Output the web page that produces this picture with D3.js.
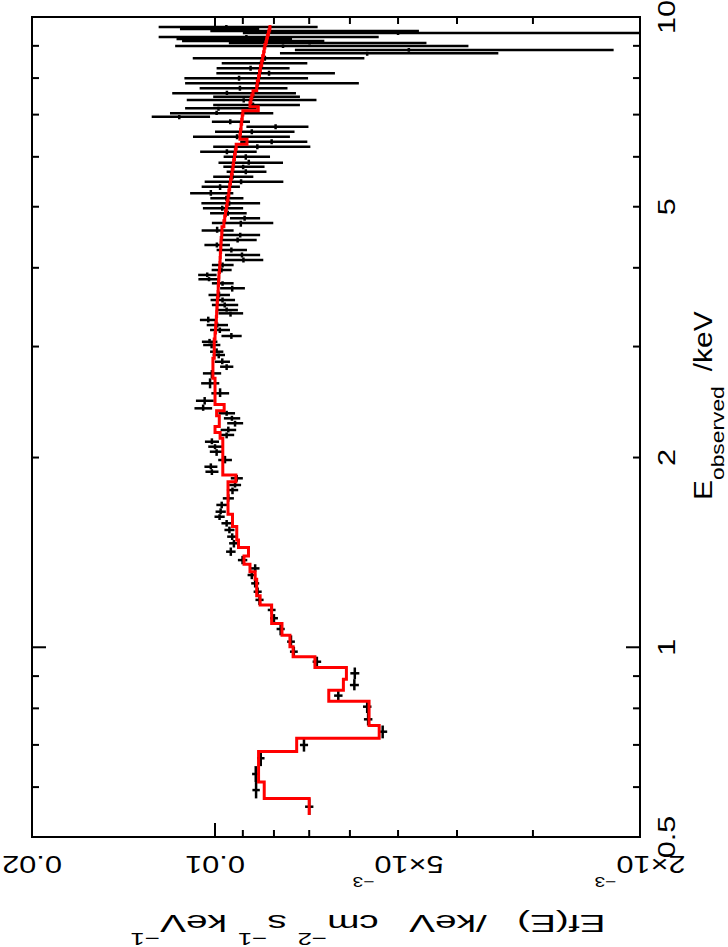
<!DOCTYPE html>
<html><head><meta charset="utf-8">
<script src="https://cdn.jsdelivr.net/npm/d3@7"></script>
<style>body{margin:0;background:#fff}svg{display:block}</style>
</head><body>
<svg id="c" width="728" height="947"></svg>
<script>
// ---- data (energy in keV, Ef(E) in keV cm^-2 s^-1 keV^-1) ----
const energy = [
0.5585,0.5935,0.6294,0.6667,0.6998,0.7346,0.7686,0.8049,0.8381,0.8711,
0.9093,0.9486,0.984,1.0207,1.069,1.112,1.146,1.189,1.225,1.263,
1.302,1.334,1.375,1.418,1.462,1.498,1.535,1.573,1.611,1.641,
1.682,1.723,1.776,1.809,1.854,1.899,1.934,1.982,2.043,2.081,
2.119,2.172,2.212,2.267,2.308,2.351,2.394,2.461,2.529,2.623,
2.720,2.787,2.838,2.909,2.944,3.017,3.053,3.118,3.187,3.245,
3.306,3.387,3.428,3.492,3.556,3.622,3.712,3.780,3.836,3.897,
3.968,4.041,4.116,4.192,4.269,4.348,4.428,4.509,4.585,4.712,
4.793,4.882,4.972,5.063,5.157,5.251,5.380,5.479,5.580,5.683,
5.787,5.873,6.003,6.113,6.226,6.341,6.458,6.577,6.699,6.822,
6.947,7.034,7.163,7.251,7.384,7.475,7.568,7.707,7.849,7.995,
8.141,8.290,8.443,8.600,8.757,8.865,8.995,9.095,9.160,9.228,
9.296,9.433,9.502,9.572,9.641];
const binLowEdge = 0.542;
const binHighEdge = 9.712;
const flux = [
0.00700,0.00856,0.00857,0.00841,0.00714,0.00530,0.00560,0.00562,0.00627,0.00590,
0.00589,0.00680,0.00742,0.00750,0.00780,0.00800,0.00807,0.00845,0.00851,0.00859,
0.00870,0.00859,0.00901,0.00942,0.00931,0.00937,0.00947,0.00957,0.00983,0.00979,
0.00975,0.00951,0.00936,0.00927,0.00921,0.01012,0.01016,0.00963,0.00994,0.01000,
0.01012,0.00957,0.00951,0.00927,0.00938,0.00957,0.01046,0.01040,0.00981,0.01019,
0.01012,0.00957,0.00973,0.00986,0.00994,0.01013,0.01021,0.00940,0.00982,0.00992,
0.01026,0.00943,0.00957,0.00964,0.00972,0.00985,0.00937,0.00972,0.01023,0.01030,
0.00976,0.00972,0.00898,0.00903,0.00940,0.00993,0.00918,0.00909,0.00992,0.00907,
0.00894,0.00953,0.00973,0.00948,0.00958,0.01016,0.00981,0.00906,0.00936,0.00890,
0.00899,0.00880,0.00890,0.00956,0.00852,0.00807,0.00920,0.00870,0.00795,0.00944,
0.01145,0.00994,0.00987,0.00866,0.00897,0.00866,0.00956,0.00910,0.00850,0.00913,
0.00815,0.00874,0.00840,0.00828,0.00562,0.00480,0.00773,0.00699,0.00897,0.00952,
0.00888,0.00500,0.00740,0.00994,0.00958];
const fluxErr = [
0.00011,0.00012,0.00012,0.00012,0.00011,0.00009,0.00009,0.00009,0.00010,0.00010,
0.00010,0.00011,0.00011,0.00011,0.00012,0.00012,0.00012,0.00013,0.00013,0.00013,
0.00014,0.00014,0.00016,0.00017,0.00017,0.00018,0.00018,0.00019,0.00019,0.00019,
0.00020,0.00020,0.00020,0.00021,0.00021,0.00025,0.00025,0.00025,0.00026,0.00026,
0.00027,0.00027,0.00028,0.00028,0.00029,0.00030,0.00035,0.00035,0.00033,0.00035,
0.00035,0.00024,0.00028,0.00023,0.00025,0.00033,0.00030,0.00036,0.00037,0.00040,
0.00033,0.00044,0.00040,0.00048,0.00045,0.00040,0.00044,0.00040,0.00042,0.00036,
0.00037,0.00040,0.00065,0.00060,0.00054,0.00048,0.00064,0.00066,0.00060,0.00105,
0.00051,0.00066,0.00074,0.00105,0.00060,0.00083,0.00071,0.00134,0.00071,0.00067,
0.00070,0.00107,0.00078,0.00102,0.00155,0.00102,0.00167,0.00130,0.00093,0.00068,
0.00126,0.00192,0.00133,0.00141,0.00216,0.00141,0.00220,0.00150,0.00270,0.00210,
0.00180,0.00120,0.00135,0.00260,0.00220,0.00259,0.00390,0.00250,0.00236,0.00205,
0.00350,0.00400,0.00278,0.00148,0.00280];
const model = [
0.00700,0.00830,0.00848,0.00848,0.00734,0.00537,0.00558,0.00558,0.00650,0.00615,
0.00608,0.00685,0.00744,0.00753,0.00776,0.00807,0.00807,0.00843,0.00854,0.00854,
0.00859,0.00876,0.00896,0.00881,0.00915,0.00921,0.00921,0.00936,0.00936,0.00952,
0.00952,0.00952,0.00952,0.00952,0.00924,0.00971,0.00971,0.00971,0.00971,0.00971,
0.00971,0.00981,0.01000,0.00984,0.00984,0.00994,0.00966,0.01000,0.01000,0.01000,
0.01008,0.01008,0.01008,0.01003,0.01003,0.01003,0.01003,0.01000,0.00998,0.00997,
0.00995,0.00994,0.00993,0.00992,0.00991,0.00989,0.00988,0.00987,0.00986,0.00985,
0.00983,0.00982,0.00981,0.00980,0.00979,0.00978,0.00977,0.00975,0.00974,0.00967,
0.00964,0.00961,0.00958,0.00955,0.00952,0.00949,0.00946,0.00943,0.00940,0.00937,
0.00934,0.00932,0.00929,0.00926,0.00923,0.00886,0.00910,0.00908,0.00906,0.00904,
0.00902,0.00900,0.00849,0.00876,0.00873,0.00870,0.00866,0.00854,0.00852,0.00848,
0.00845,0.00842,0.00838,0.00835,0.00832,0.00830,0.00828,0.00825,0.00823,0.00822,
0.00820,0.00817,0.00815,0.00813,0.00812];

// ---- axes ----
const energyDomain = [0.5, 10];
const fluxDomain = [0.02, 0.002];
const energyLabelValues = [0.5, 1, 2, 5, 10];
const energyLabelText = ["0.5", "1", "2", "5", "10"];
const energyMajorTicks = [1];
const energyMinorTicks = [0.6, 0.7, 0.8, 0.9, 2, 3, 4, 5, 6, 7, 8, 9];
const fluxMajorTicks = [0.01];
const fluxMinorTicks = [0.003, 0.004, 0.005, 0.006, 0.007, 0.008, 0.009];
const fluxLabelValues = [0.02, 0.01, 0.005, 0.002];
const fluxLabelMain = ["0.02", "0.01", "5\u00d710", "2\u00d710"];
const fluxLabelExp = ["", "", "\u22123", "\u22123"];

const FONT = "'Liberation Sans', Arial, Helvetica, sans-serif";
const svg = d3.select("#c");
// chart is drawn in its natural orientation and turned 90deg counter-clockwise
const g = svg.append("g").attr("transform", "translate(0,947) rotate(-90)");

const L = 110, R = 930, T = 32, B = 640;
const x = d3.scaleLog().domain(energyDomain).range([L, R]);
const y = d3.scaleLog().domain(fluxDomain).range([T, B]);

g.append("clipPath").attr("id", "clip").append("rect")
  .attr("x", L).attr("y", T).attr("width", R - L).attr("height", B - T);

// bin edges (geometric midpoints between neighbouring bin centres)
const edges = [binLowEdge];
for (let i = 0; i < energy.length - 1; i++) edges.push(Math.sqrt(energy[i] * energy[i + 1]));
edges.push(binHighEdge);

const dg = g.append("g").attr("clip-path", "url(#clip)");
const pts = energy.map((e, i) => ({e, f: flux[i], s: fluxErr[i], lo: edges[i], hi: edges[i + 1]}));
dg.selectAll("line.h").data(pts).join("line").attr("class", "h")
  .attr("x1", d => x(d.lo)).attr("x2", d => x(d.hi))
  .attr("y1", d => y(d.f)).attr("y2", d => y(d.f))
  .attr("stroke", "#000").attr("stroke-width", 2.5);
dg.selectAll("line.v").data(pts).join("line").attr("class", "v")
  .attr("x1", d => x(d.e)).attr("x2", d => x(d.e))
  .attr("y1", d => y(d.f + d.s)).attr("y2", d => y(Math.max(d.f - d.s, 1e-4)))
  .attr("stroke", "#000").attr("stroke-width", 2.5);

// model histogram
let p = `M${x(edges[0])},${y(model[0])}`;
for (let i = 0; i < model.length; i++) {
  p += `H${x(edges[i + 1])}`;
  if (i < model.length - 1) p += `V${y(model[i + 1])}`;
}
dg.append("path").attr("d", p).attr("fill", "none").attr("stroke", "#ff0000")
  .attr("stroke-width", 3).attr("stroke-linejoin", "miter");

// frame
g.append("rect").attr("x", L).attr("y", T).attr("width", R - L).attr("height", B - T)
  .attr("fill", "none").attr("stroke", "#000").attr("stroke-width", 2);

const MAJ = 14, MIN = 7;
const tk = g.append("g").attr("stroke", "#000").attr("stroke-width", 2);
function eTick(v, len) {
  tk.append("line").attr("x1", x(v)).attr("x2", x(v)).attr("y1", B).attr("y2", B - len);
  tk.append("line").attr("x1", x(v)).attr("x2", x(v)).attr("y1", T).attr("y2", T + len);
}
function fTick(v, len) {
  tk.append("line").attr("y1", y(v)).attr("y2", y(v)).attr("x1", L).attr("x2", L + len);
  tk.append("line").attr("y1", y(v)).attr("y2", y(v)).attr("x1", R).attr("x2", R - len);
}
energyMajorTicks.forEach(v => eTick(v, MAJ));
energyMinorTicks.forEach(v => eTick(v, MIN));
fluxMajorTicks.forEach(v => fTick(v, MAJ));
fluxMinorTicks.forEach(v => fTick(v, MIN));

// energy tick labels
energyLabelValues.forEach((v, i) => {
  g.append("text").attr("transform", `translate(${x(v)},675) scale(1.28,1)`)
    .attr("text-anchor", "middle").attr("font-family", FONT).attr("font-size", 24)
    .text(energyLabelText[i]);
});
// flux tick labels (parallel to axis)
fluxLabelValues.forEach((v, i) => {
  const t = g.append("text").attr("transform", `translate(91,${y(v)}) rotate(-90) scale(1.28,1)`)
    .attr("text-anchor", "middle").attr("font-family", FONT).attr("font-size", 24);
  t.append("tspan").text(fluxLabelMain[i]);
  if (fluxLabelExp[i]) t.append("tspan").attr("dy", -21).attr("font-size", 15).text(fluxLabelExp[i]);
});

// axis titles
const xt = g.append("text").attr("transform", "translate(447,712) scale(1.2,1)")
  .attr("font-family", FONT).attr("font-size", 25);
xt.append("tspan").text("E");
xt.append("tspan").attr("dy", 12).attr("font-size", 19).text("observed");
xt.append("tspan").attr("dy", -12).text("\u2002/keV");

const yt = g.append("text").attr("transform", "translate(32,368) rotate(-90) scale(1.62,1)")
  .attr("text-anchor", "middle").attr("font-family", FONT).attr("font-size", 24);
yt.append("tspan").text("Ef(E) \u2002/keV \u2002cm");
yt.append("tspan").attr("dy", -18).attr("font-size", 16).text("\u22122");
yt.append("tspan").attr("dy", 18).text(" s");
yt.append("tspan").attr("dy", -18).attr("font-size", 16).text("\u22121");
yt.append("tspan").attr("dy", 18).text(" keV");
yt.append("tspan").attr("dy", -18).attr("font-size", 16).text("\u22121");
</script>
</body></html>
